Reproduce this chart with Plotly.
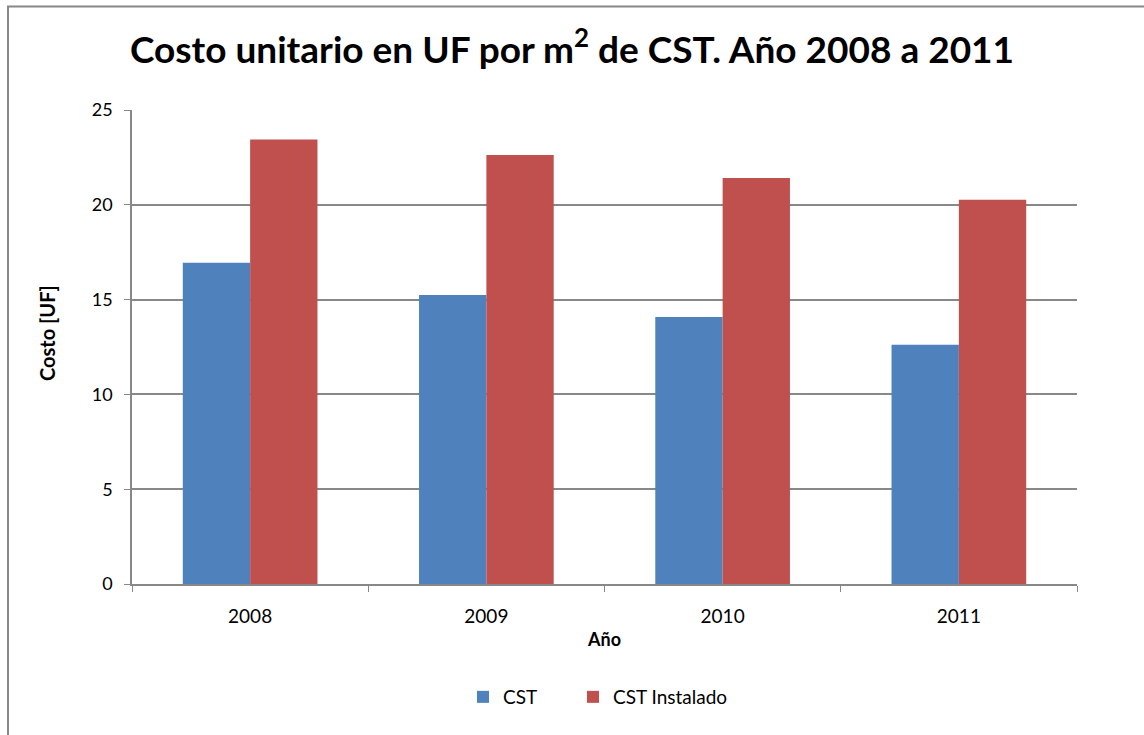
import plotly.graph_objects as go

years = ["2008", "2009", "2010", "2011"]
cst = [16.95, 15.24, 14.08, 12.62]
cst_instalado = [23.45, 22.63, 21.41, 20.27]
y_ticks = [0, 5, 10, 15, 20, 25]

W, H = 1144, 735
L, R, T, B = 132, 67, 110, 151
pw, ph = W - L - R, H - T - B

def px_x(p):
    return (p - L) / pw

def px_y(p):
    return (H - B - p) / ph

FONT = "Lato"

fig = go.Figure()
fig.add_trace(go.Bar(name="CST", x=years, y=cst, legend="legend", showlegend=True,
                     marker=dict(color="#4F81BD", line=dict(width=0))))
fig.add_trace(go.Bar(name="CST Instalado", x=years, y=cst_instalado, legend="legend2", showlegend=True,
                     marker=dict(color="#C0504D", line=dict(width=0))))

leg_common = dict(orientation="h", yanchor="middle", y=px_y(697), xanchor="left",
                  font=dict(size=19), itemwidth=30, bgcolor="rgba(0,0,0,0)")

fig.update_layout(
    width=W, height=H,
    margin=dict(l=L, r=R, t=T, b=B),
    paper_bgcolor="white", plot_bgcolor="white",
    showlegend=True,
    barmode="group", bargap=0.43, bargroupgap=0,
    font=dict(family=FONT, color="black"),
    title=dict(text="<b>Costo unitario en UF por m<sup>2</sup> de CST. Año 2008 a 2011</b>",
               x=0.5, xanchor="center", y=1 - 50 / H, yanchor="middle",
               font=dict(size=37, family=FONT, color="black")),
    xaxis=dict(type="category", showline=True, linecolor="#888888", linewidth=1.5,
               ticks="outside", tickson="boundaries", ticklen=6, tickcolor="#888888",
               tickfont=dict(size=19), showgrid=False, ticklabelstandoff=14,
               title=dict(text="<b>Año</b>", font=dict(size=18), standoff=8)),
    yaxis=dict(range=[0, 25], tickvals=y_ticks, showline=True, linecolor="#888888", linewidth=1.5,
               ticks="outside", ticklen=6, tickcolor="#888888",
               showgrid=True, gridcolor="#888888", gridwidth=1.5, zeroline=False,
               tickfont=dict(size=18), ticklabelstandoff=8),
    annotations=[dict(text="<b>Costo [UF]</b>", xref="paper", yref="paper",
                      x=px_x(47), y=px_y(333), xanchor="center", yanchor="middle",
                      textangle=-90, showarrow=False, font=dict(size=20, color="black"))],
    legend=dict(x=px_x(463), **leg_common),
    legend2=dict(x=px_x(573), **leg_common),
    shapes=[dict(type="rect", xref="paper", yref="paper",
                 x0=px_x(8), x1=px_x(1160), y0=px_y(750), y1=px_y(6.5),
                 line=dict(color="#888888", width=2), fillcolor="rgba(0,0,0,0)", layer="below")],
)

fig.write_html("out.html", config={"displayModeBar": False},
               post_script="document.body.style.margin='0';document.body.style.overflow='hidden';")
